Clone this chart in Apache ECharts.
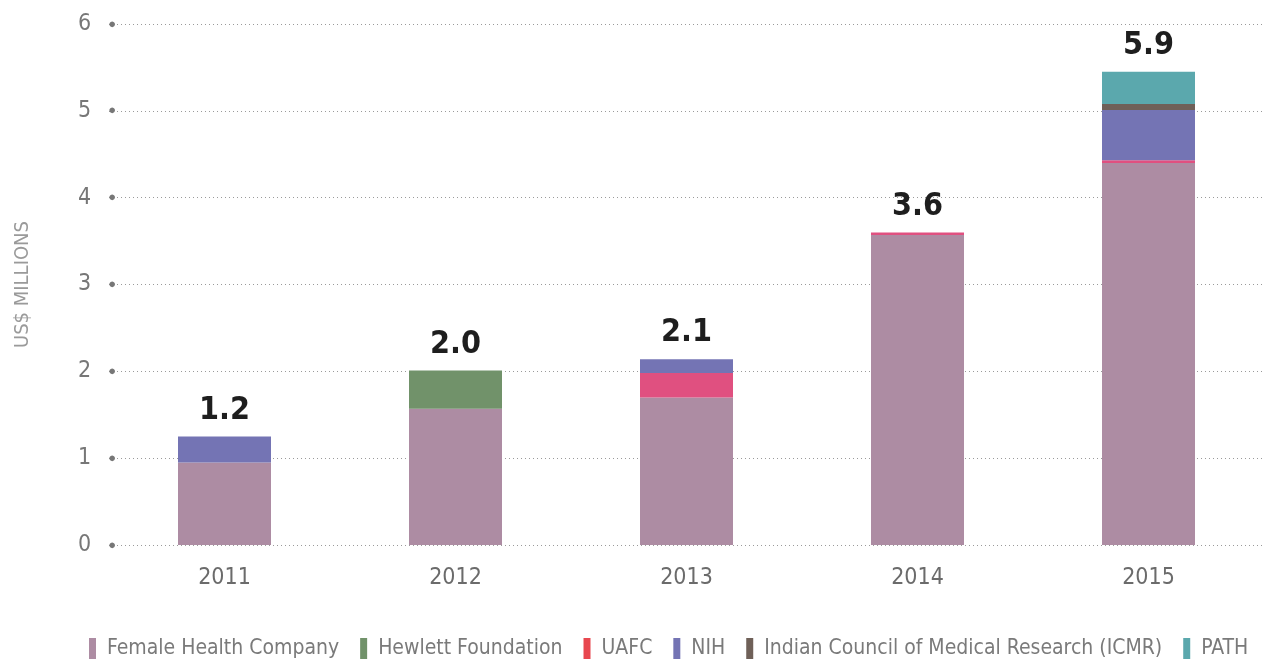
<!DOCTYPE html>
<html>
<head>
<meta charset="utf-8">
<script src="https://cdn.jsdelivr.net/npm/echarts@6/dist/echarts.min.js"></script>
<style>
html,body{margin:0;padding:0;background:#fff;}
#chart{width:1280px;height:662px;}
</style>
</head>
<body>
<div id="chart"></div>
<script>
var years = ['2011', '2012', '2013', '2014', '2015'];
var fhc = [0.95, 1.57, 1.70, 3.57, 4.40];
var hewlett = [0, 0.44, 0, 0, 0];
var uafc = [0, 0, 0.28, 0.03, 0.03];
var nih = [0.30, 0, 0.16, 0, 0.58];
var icmr = [0, 0, 0, 0, 0.07];
var path = [0, 0, 0, 0, 0.37];
var totals = ['1.2', '2.0', '2.1', '3.6', '5.9'];

var font = '"Liberation Sans Narrow", "DejaVu Sans Condensed", sans-serif';

var chart = echarts.init(document.getElementById('chart'));

function bar(name, data, color, withLabel){
	var s = {
		name: name,
		type: 'bar',
		stack: 'total',
		barWidth: 93,
		data: data,
		itemStyle: {color: color},
		emphasis: {disabled: true}
	};
	if(withLabel){
		s.label = {
			show: true,
			position: 'top',
			distance: 10,
			fontFamily: font,
			fontWeight: 'bold',
			fontSize: 32,
			color: '#1e1e1e',
			formatter: function(p){
				return totals[p.dataIndex];
			}
		};
	}
	return s;
}

chart.setOption({
	animation: false,
	grid: {
		left: 109,
		right: 16,
		top: 24,
		bottom: 117
	},
	legend: {
		top: 633,
		left: 84,
		right: 0,
		itemWidth: 7,
		itemHeight: 21,
		itemGap: 21,
		icon: 'rect',
		textStyle: {
			fontFamily: font,
			fontSize: 21,
			color: '#7a7a7a',
			padding: [0, 0, 0, 6]
		},
		data: [
			{name: 'Female Health Company'},
			{name: 'Hewlett Foundation'},
			{name: 'UAFC', itemStyle: {color: '#e8474f'}},
			{name: 'NIH'},
			{name: 'Indian Council of Medical Research (ICMR)'},
			{name: 'PATH'}
		]
	},
	xAxis: {
		type: 'category',
		data: years,
		axisLine: {show: false},
		axisTick: {show: false},
		axisLabel: {
			margin: 22,
			fontFamily: font,
			fontSize: 23,
			color: '#6b6b6b'
		}
	},
	yAxis: {
		type: 'value',
		min: 0,
		max: 6,
		interval: 1,
		name: 'US$ MILLIONS',
		nameLocation: 'middle',
		nameGap: 76,
		nameTextStyle: {
			fontFamily: font,
			fontSize: 20,
			color: '#9a9a9a'
		},
		axisLine: {show: false},
		axisTick: {show: false},
		splitLine: {
			lineStyle: {
				color: '#9a9a9a',
				width: 1,
				type: [1, 3]
			}
		},
		axisLabel: {
			margin: -7,
			formatter: function(v){
				return '{n|' + v + '}{d|●}';
			},
			rich: {
				n: {
					fontFamily: font,
					fontSize: 23,
					color: '#777777',
					padding: [0, 17, 0, 0]
				},
				d: {
					fontSize: 13,
					color: '#777777'
				}
			}
		}
	},
	series: [
		bar('Female Health Company', fhc, '#ad8ca3'),
		bar('Hewlett Foundation', hewlett, '#71926a'),
		bar('UAFC', uafc, '#e05080'),
		bar('NIH', nih, '#7474b4'),
		bar('Indian Council of Medical Research (ICMR)', icmr, '#6f6058'),
		bar('PATH', path, '#5ba8ad', true)
	]
});
</script>
</body>
</html>
